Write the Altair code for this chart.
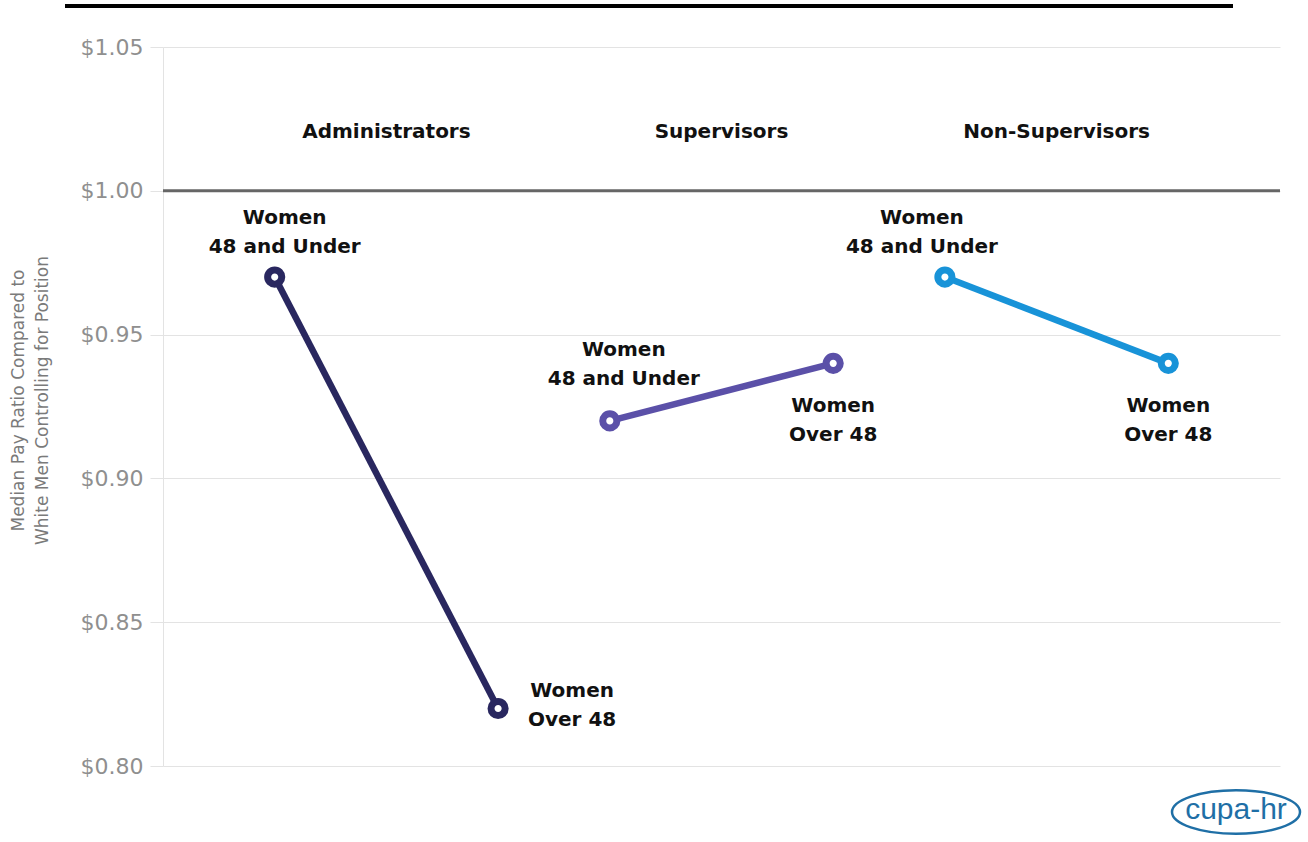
import altair as alt
import pandas as pd

# Pay ratio of women, by age band, within each position type
groups = ["Administrators", "Supervisors", "Non-Supervisors"]
group_slots = [3, 6, 9]
age_labels = ["Women\n48 and Under", "Women\nOver 48"]
point_slots = [[2, 4], [5, 7], [8, 10]]
ratios = [[0.97, 0.82], [0.92, 0.94], [0.97, 0.94]]
group_colors = ["#29275f", "#5b50a8", "#1893d8"]
y_ticks = [0.80, 0.85, 0.90, 0.95, 1.00, 1.05]
parity = [1.00]

rows = []
for g, slots, vals in zip(groups, point_slots, ratios):
    for age, s, v in zip(age_labels, slots, vals):
        rows.append({"group": g, "age": age, "slot": s, "ratio": v})
df = pd.DataFrame(rows)
titles = pd.DataFrame({"group": groups, "slot": group_slots})

W, H = 1117, 719
PAD = {"left": 163, "top": 47, "right": 28, "bottom": 76}

x = alt.X("slot:Q", scale=alt.Scale(domain=[1, 11], nice=False, zero=False), axis=None)
y_axis = alt.Axis(
    values=y_ticks, format="$.2f",
    labelFont="DejaVu Sans", labelFontSize=22, labelColor="#8f8f8f", labelPadding=7,
    tickSize=13, tickColor="#e3e3e3", gridColor="#e3e3e3", domainColor="#e3e3e3",
    title=["Median Pay Ratio Compared to", "White Men Controlling for Position"],
    titleFont="DejaVu Sans", titleFontSize=17, titleFontWeight="normal",
    titleColor="#7a7a7a", titleLineHeight=24,
    titleAlign="center", titleBaseline="middle", titleX=-145, titleY=353,
)
y = alt.Y("ratio:Q", scale=alt.Scale(domain=[0.80, 1.05], nice=False, zero=False), axis=y_axis)
color = alt.Color("group:N", scale=alt.Scale(domain=groups, range=group_colors), legend=None)

base = alt.Chart(df)

parity_rule = alt.Chart(pd.DataFrame({"ratio": parity})).mark_rule(
    color="#666666", strokeWidth=3
).encode(y="ratio:Q")

lines = base.mark_line(strokeWidth=6.5).encode(x=x, y=y, color=color)
points = base.mark_point(
    shape="circle", size=200, strokeWidth=7, fill="white", fillOpacity=1, opacity=1
).encode(x="slot:Q", y="ratio:Q", color=color)

# label offsets (dx, dy) from each point, per group and age band
label_offsets = {
    ("Administrators", 0): (10, -59),
    ("Supervisors", 0): (14, -71),
    ("Non-Supervisors", 0): (-23, -59),
    ("Administrators", 1): (74, -17),
    ("Supervisors", 1): (0, 43),
    ("Non-Supervisors", 1): (0, 43),
}
label_layers = []
for (g, i), (dx, dy) in label_offsets.items():
    sub = df[(df["group"] == g) & (df["age"] == age_labels[i])]
    label_layers.append(
        alt.Chart(sub).mark_text(
            font="DejaVu Sans", fontSize=20, fontWeight="bold", color="#111111",
            lineBreak="\n", lineHeight=29, align="center", baseline="middle",
            dx=dx, dy=dy,
        ).encode(x="slot:Q", y="ratio:Q", text="age:N")
    )

group_titles = alt.Chart(titles).mark_text(
    font="DejaVu Sans", fontSize=20, fontWeight="bold", color="#111111",
    align="center", baseline="middle",
).encode(x="slot:Q", y=alt.value(85), text="group:N")

top_rule = alt.Chart(pd.DataFrame({"k": [0]})).mark_rule(
    color="black", strokeWidth=4
).encode(x=alt.value(-98), x2=alt.value(1070), y=alt.value(-41))

logo_ring = alt.Chart(pd.DataFrame({"k": [0]})).mark_point(
    shape="M -1 0 A 1 0.34 0 1 1 1 0 A 1 0.34 0 1 1 -1 0 Z",
    size=16384, stroke="#1f6fa6", strokeWidth=2.5, filled=False, opacity=1,
).encode(x=alt.value(1073), y=alt.value(765))
logo_text = alt.Chart(pd.DataFrame({"k": ["cupa-hr"]})).mark_text(
    font="Liberation Sans", fontSize=30, color="#1f6fa6", align="center",
    baseline="middle",
).encode(x=alt.value(1073), y=alt.value(763), text="k:N")

chart = alt.layer(
    parity_rule, lines, points, *label_layers, group_titles, top_rule, logo_ring, logo_text
).properties(
    width=W, height=H, padding=PAD, autosize=alt.AutoSizeParams(type="none")
).configure_view(stroke=None)

chart.save("out.html", embed_options={"renderer": "svg", "actions": False})
